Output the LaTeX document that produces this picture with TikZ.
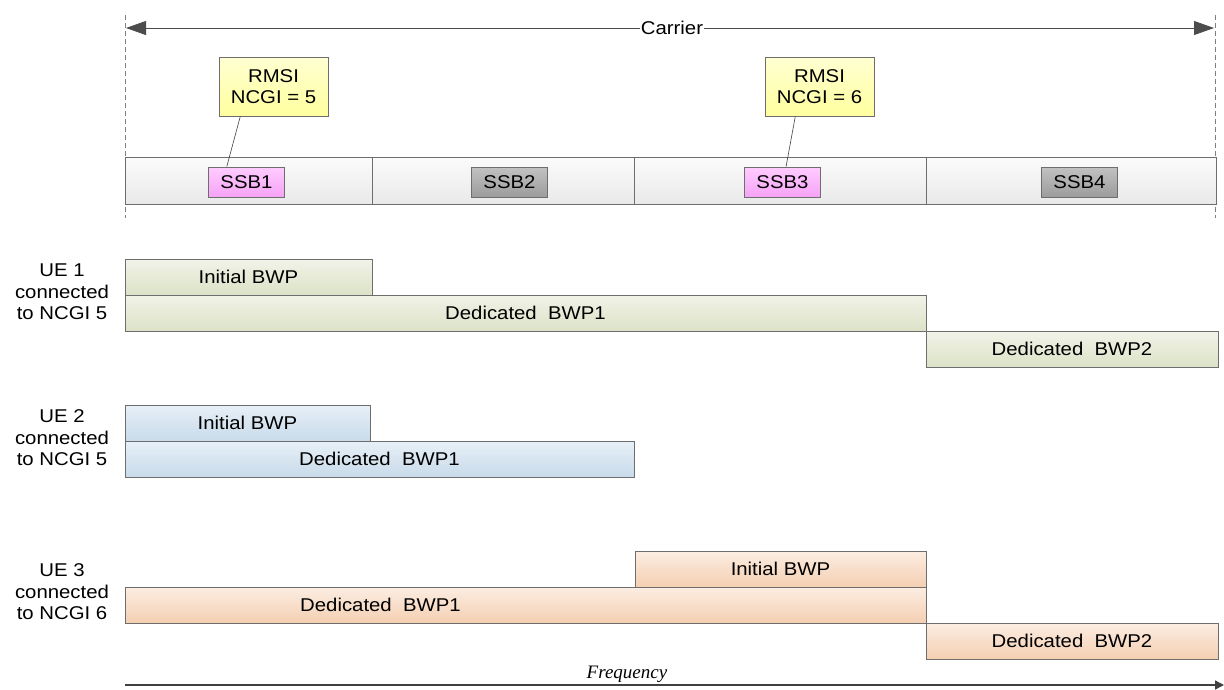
\documentclass[tikz,border=0pt]{standalone}
\usepackage{fontspec}
\setmainfont[FakeStretch=1.1]{Liberation Sans}
\newfontfamily\freqfont{Liberation Serif}
\usetikzlibrary{arrows.meta,positioning}

\definecolor{bandtop}{HTML}{FBFBFB}
\definecolor{bandbot}{HTML}{E9E9E9}
\definecolor{ssbtop}{HTML}{FFCCFF}
\definecolor{ssbbot}{HTML}{F5A3F5}
\definecolor{offtop}{HTML}{C2C2C2}
\definecolor{offbot}{HTML}{9C9C9C}
\definecolor{rmsitop}{HTML}{FFFFD2}
\definecolor{rmsibot}{HTML}{FFFF9E}
\definecolor{ueatop}{HTML}{F1F3E8}
\definecolor{ueabot}{HTML}{DCE2C7}
\definecolor{uebtop}{HTML}{E7F0F7}
\definecolor{uebbot}{HTML}{C8DAEA}
\definecolor{uectop}{HTML}{FCEDE2}
\definecolor{uecbot}{HTML}{F4CFB2}
\definecolor{edge}{HTML}{6E6E6E}

\begin{document}
\begin{tikzpicture}[
    x=1pt, y=-1pt,
    font=\fontsize{18.5}{21.5}\selectfont,
    band/.style={
        rectangle,
        draw=edge,
        line width=0.8pt,
        inner sep=0pt,
        outer sep=0pt,
        minimum height=47pt,
        top color=bandtop,
        bottom color=bandbot
    },
    ssbon/.style={
        rectangle,
        draw=edge,
        line width=0.8pt,
        inner sep=0pt,
        minimum width=76pt,
        minimum height=30pt,
        top color=ssbtop,
        bottom color=ssbbot
    },
    ssboff/.style={
        ssbon,
        top color=offtop,
        bottom color=offbot
    },
    rmsi/.style={
        rectangle,
        draw=edge,
        line width=0.8pt,
        inner sep=0pt,
        minimum width=109pt,
        minimum height=59pt,
        align=center,
        top color=rmsitop,
        bottom color=rmsibot
    },
    bwp/.style={
        rectangle,
        draw=edge,
        line width=0.8pt,
        inner sep=0pt,
        outer sep=0pt,
        anchor=north west,
        minimum height=36pt
    },
    uea/.style={bwp, top color=ueatop, bottom color=ueabot},
    ueb/.style={bwp, top color=uebtop, bottom color=uebbot},
    uec/.style={bwp, top color=uectop, bottom color=uecbot},
    uelabel/.style={align=center, inner sep=0pt},
    guide/.style={draw=gray, line width=0.8pt, dash pattern=on 5pt off 3pt},
    span/.style={{Triangle[length=20pt,width=14pt]}-{Triangle[length=20pt,width=14pt]}, draw=black!70, fill=black!70, line width=0.8pt},
    axis/.style={-{Triangle[length=9pt,width=9pt]}, draw=black!75, line width=1.4pt}
]
\useasboundingbox (0,0) rectangle (1224,689);

% carrier
\coordinate (cl) at (125,15);
\coordinate (cr) at (1215,15);
\coordinate (clb) at (125,218);
\coordinate (crb) at (1215,218);
\draw[guide] (cl) -- (clb);
\draw[guide] (cr) -- (crb);
\coordinate (al) at (126,28);
\coordinate (ar) at (1214,28);
\draw[span] (al) -- (ar);
\node[fill=white, inner sep=1pt] (carrier) at (672,28) {Carrier};

% carrier sub-bands
\node[band, anchor=north west, minimum width=247pt] (seg1) at (125,157) {};
\node[band, right=0pt of seg1, minimum width=262pt] (seg2) {};
\node[band, right=0pt of seg2, minimum width=292pt] (seg3) {};
\node[band, right=0pt of seg3, minimum width=290pt] (seg4) {};

\node[ssbon] (ssb1) at (246.5,182) {SSB1};
\node[ssboff] (ssb2) at (509.5,182) {SSB2};
\node[ssbon] (ssb3) at (782.5,182) {SSB3};
\node[ssboff] (ssb4) at (1079.5,182) {SSB4};

\node[rmsi] (rmsi5) at (273.5,86.5) {RMSI\\NCGI = 5};
\node[rmsi] (rmsi6) at (819.5,86.5) {RMSI\\NCGI = 6};
\draw[draw=black!75, line width=0.6pt] (rmsi5.222) -- (ssb1.142);
\draw[draw=black!75, line width=0.6pt] (rmsi6.231.5) -- (ssb3.77);

% UE 1
\node[uelabel] (ue1) at (62,292) {UE 1\\connected\\to NCGI 5};
\node[uea, minimum width=247pt] (ue1init) at (125,259) {Initial BWP};
\node[uea, anchor=north west, minimum width=801pt] (ue1ded1) at (ue1init.south west) {Dedicated\ \ BWP1};
\node[uea, anchor=north west, minimum width=292pt] (ue1ded2) at (ue1ded1.south east) {Dedicated\ \ BWP2};

% UE 2
\node[uelabel] (ue2) at (62,438) {UE 2\\connected\\to NCGI 5};
\node[ueb, minimum width=245pt] (ue2init) at (125,405) {Initial BWP};
\node[ueb, anchor=north west, minimum width=509pt] (ue2ded1) at (ue2init.south west) {Dedicated\ \ BWP1};

% UE 3
\node[uelabel] (ue3) at (62,592) {UE 3\\connected\\to NCGI 6};
\node[uec, minimum width=291pt] (ue3init) at (635,551) {Initial BWP};
\node[uec, minimum width=801pt] (ue3ded1) at (125,587) {Dedicated\ \ BWP1\hspace*{290pt}};
\node[uec, anchor=north west, minimum width=292pt] (ue3ded2) at (ue3ded1.south east) {Dedicated\ \ BWP2};

% frequency axis
\coordinate (fl) at (125,685);
\coordinate (fr) at (1224,685);
\draw[axis] (fl) -- (fr);
\node[font=\freqfont\itshape\fontsize{19}{22}\selectfont, inner sep=0pt, anchor=base] (freq) at (627,678) {Frequency};

\end{tikzpicture}
\end{document}
